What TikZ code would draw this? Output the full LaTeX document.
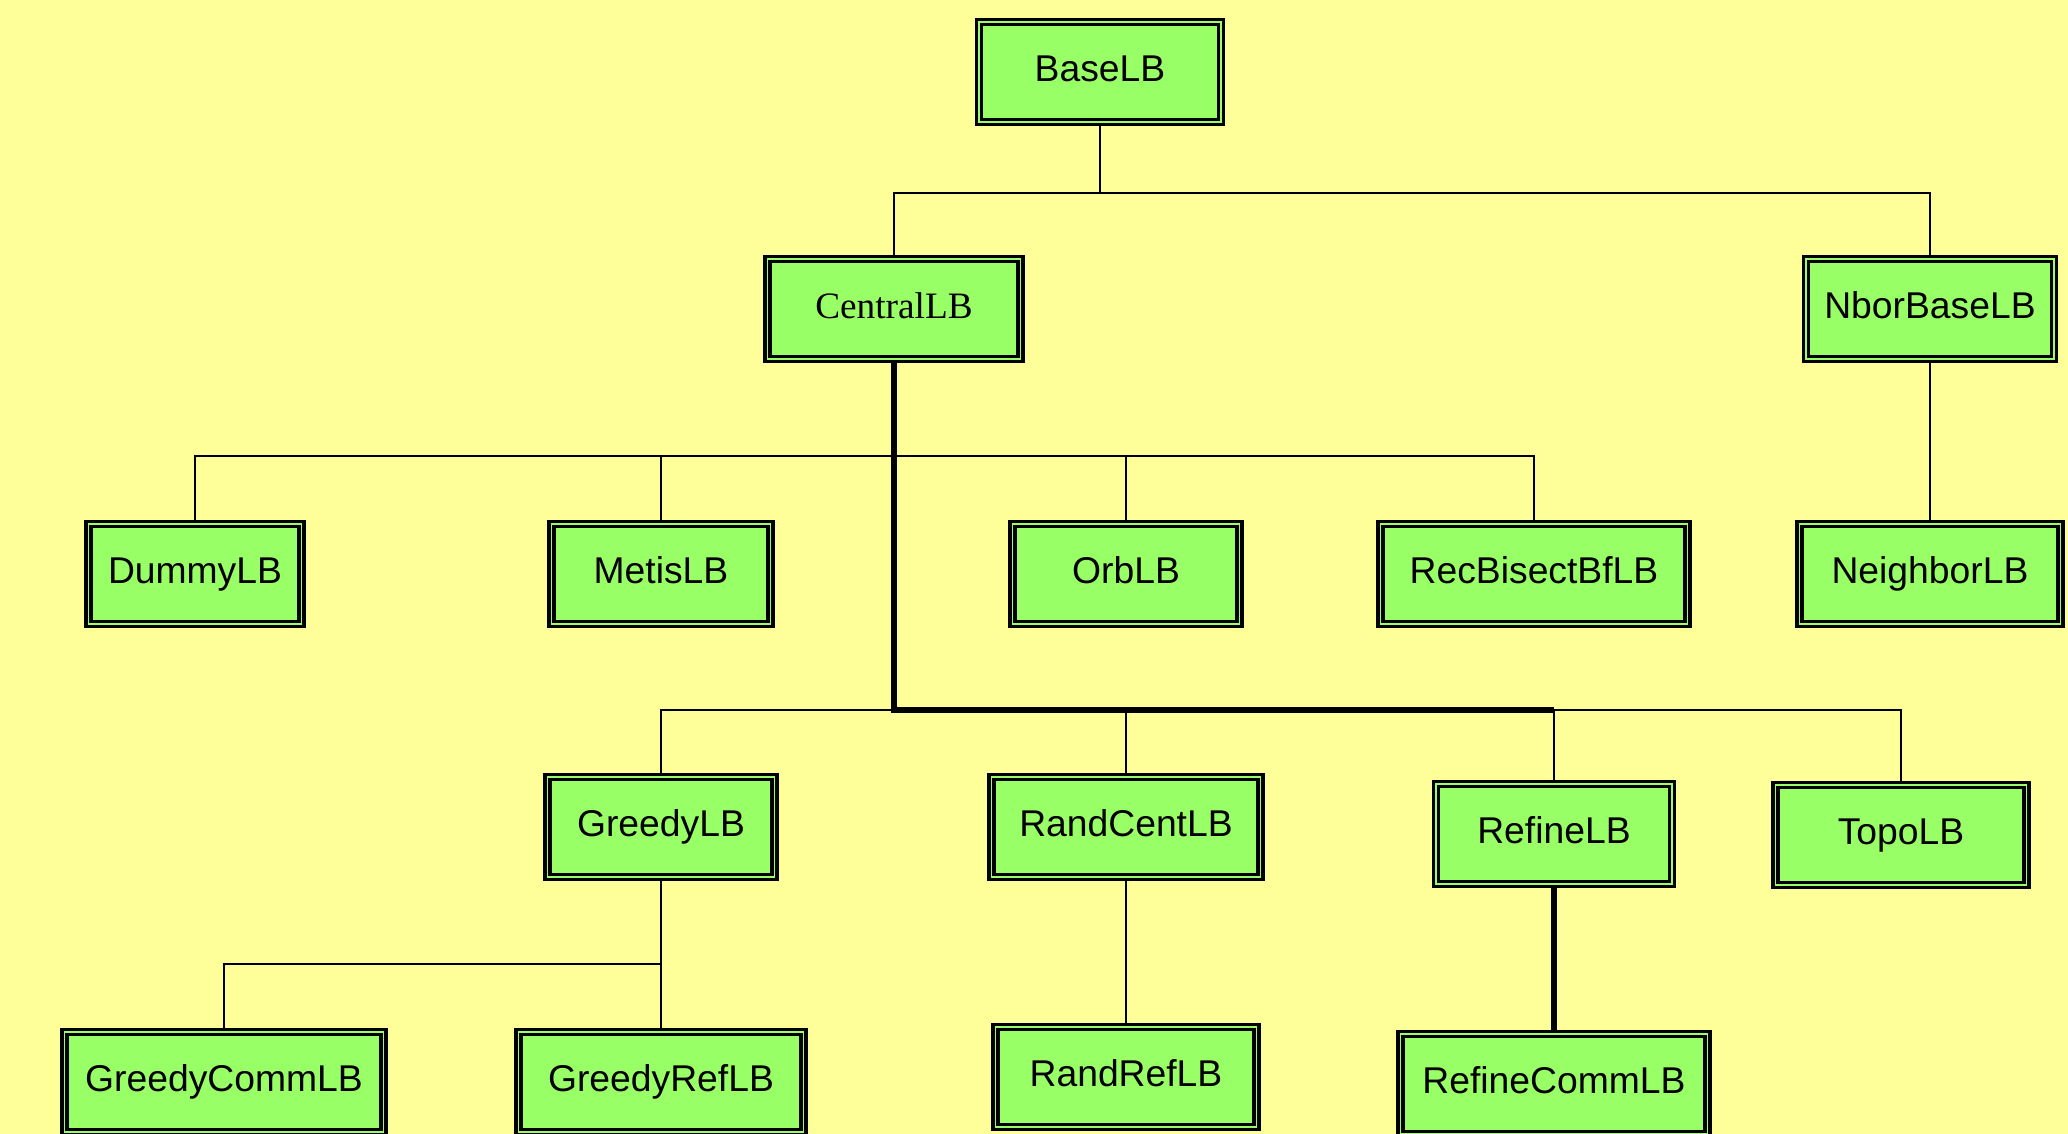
\documentclass[tikz,border=0pt]{standalone}
\usepackage{fontspec}
\setmainfont{Liberation Sans}
\newfontfamily\romain{Liberation Serif}
\usepackage{tikz}
\newcommand{\px}{0.01cm}
\newcommand{\hb}{100}
\definecolor{jaunefond}{RGB}{255,255,153}
\definecolor{vertboite}{RGB}{153,255,102}
\tikzstyle{classe}=[draw=black, line width=1pt, double=vertboite, double distance=0.5pt, fill=vertboite, inner sep=0, minimum height=\hb*\px, text height=0.75em, text depth=0.22em, font=\fontsize{10.6}{12}\selectfont]
\tikzstyle{lien}=[line width=0.75pt]
\tikzstyle{tronc}=[line width=1.6pt]
\newcommand{\boite}[4]{
  \node[classe, minimum width=#3*\px] (#1) at #2 {#4};
}
\begin{document}
\begin{tikzpicture}[x=\px, y=-\px]
\useasboundingbox (0,0) rectangle (2068,1134);
\clip (0,0) rectangle (2068,1134);
\fill[jaunefond] (0,0) rectangle (2068,1134);

% niveaux des barres
\coordinate (bus1) at (0,193);
\coordinate (bus2) at (0,456);
\coordinate (bus3) at (0,710);
\coordinate (bus4) at (0,964);

\boite{base}{(1100,72)}{242}{BaseLB}
\boite{central}{(894,309)}{253}{\romain CentralLB}
\boite{nborbase}{(1930,309)}{248}{NborBaseLB}

\boite{dummy}{(195,574)}{213}{DummyLB}
\boite{metis}{(661,574)}{219}{MetisLB}
\boite{orb}{(1126,574)}{227}{OrbLB}
\boite{recbisect}{(1534,574)}{307}{RecBisectBfLB}
\boite{neighbor}{(1930,574)}{261}{NeighborLB}

\boite{greedy}{(661,827)}{227}{GreedyLB}
\boite{randcent}{(1126,827)}{269}{RandCentLB}
\boite{refine}{(1554,834)}{236}{RefineLB}
\boite{topo}{(1901,835)}{251}{TopoLB}

\boite{greedycomm}{(224,1082)}{319}{GreedyCommLB}
\boite{greedyref}{(661,1082)}{285}{GreedyRefLB}
\boite{randref}{(1126,1077)}{261}{RandRefLB}
\boite{refinecomm}{(1554,1084)}{307}{RefineCommLB}

%niveau 1
\draw[lien] (base.south) -- (base.south |- bus1);
\draw[lien] (central.north) |- (nborbase.north |- bus1) -- (nborbase.north);

%niveau 2
\draw[lien] (dummy.north) |- (recbisect.north |- bus2) -- (recbisect.north);
\foreach \N in {metis,orb}
\draw[lien] (\N.north) -- (\N.north |- bus2);
\draw[lien] (nborbase.south) -- (neighbor.north);

%niveau 3
\draw[lien] (greedy.north) |- (topo.north |- bus3) -- (topo.north);
\foreach \N in {randcent,refine}
\draw[lien] (\N.north) -- (\N.north |- bus3);
\draw[tronc] (central.south) -- (central.south |- bus3) -- (refine.north |- bus3);

%niveau 4
\draw[lien] (greedy.south) -- (greedyref.north);
\draw[lien] (greedycomm.north) |- (greedy.south |- bus4);
\draw[lien] (randcent.south) -- (randref.north);
\draw[tronc] (refine.south) -- (refinecomm.north);
\end{tikzpicture}
\end{document}
